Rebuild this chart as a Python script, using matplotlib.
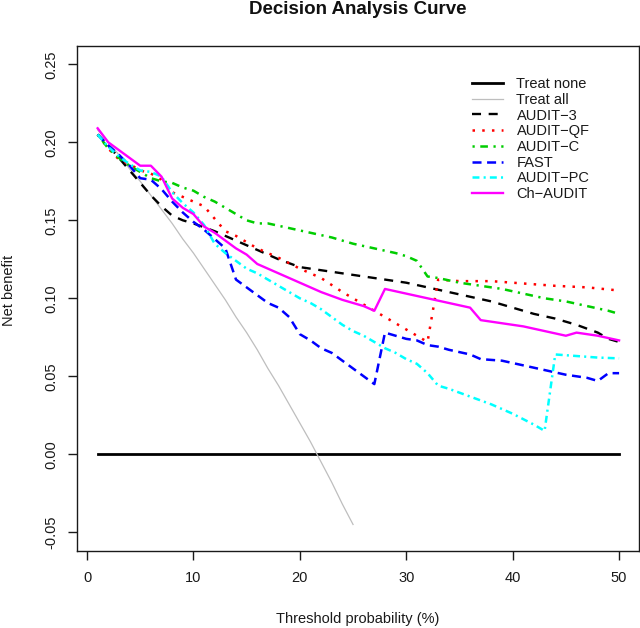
import matplotlib
matplotlib.use("Agg")
import matplotlib.pyplot as plt

plt.rcParams['font.family'] = ['Liberation Sans', 'DejaVu Sans']
plt.rcParams['lines.scale_dashes'] = False

# ---------------- data ----------------
thr_all = [1, 2, 3, 4, 5, 6, 7, 8, 9, 10, 11, 12, 13, 14, 15, 16, 17, 18, 19, 20, 21, 22, 23, 24, 25]
nb_all = [0.208, 0.200, 0.192, 0.183, 0.175, 0.166, 0.157, 0.148, 0.138, 0.129, 0.119, 0.109, 0.099,
          0.088, 0.078, 0.067, 0.055, 0.044, 0.032, 0.020, 0.008, -0.005, -0.018, -0.032, -0.045]

thr_none = [1, 50]
nb_none = [0.0, 0.0]

thr_a3 = [1, 2, 3, 4, 5, 6, 7, 8, 9, 10, 12, 14, 16, 18, 20, 22, 24, 26, 28, 30, 32, 34, 36, 38, 40,
          42, 44, 46, 48, 49, 50]
nb_a3 = [0.205, 0.198, 0.190, 0.182, 0.174, 0.166, 0.159, 0.153, 0.150, 0.148, 0.143, 0.137, 0.131,
         0.125, 0.120, 0.118, 0.116, 0.114, 0.112, 0.110, 0.107, 0.104, 0.101, 0.098, 0.094, 0.090,
         0.087, 0.083, 0.078, 0.074, 0.072]

thr_qf = [1, 2, 3, 4, 5, 6, 7, 8, 9, 10, 11, 12, 13, 14, 15, 16, 18, 20, 22, 24, 26, 28, 30, 31, 32,
          33, 35, 38, 40, 44, 47, 50]
nb_qf = [0.205, 0.196, 0.189, 0.186, 0.182, 0.180, 0.176, 0.168, 0.165, 0.162, 0.159, 0.151, 0.143,
         0.140, 0.136, 0.132, 0.126, 0.119, 0.113, 0.104, 0.096, 0.088, 0.080, 0.076, 0.072, 0.112,
         0.111, 0.111, 0.110, 0.108, 0.107, 0.105]

thr_c = [1, 2, 3, 4, 5, 6, 7, 8, 9, 10, 11, 12, 13, 14, 15, 16, 17, 19, 21, 23, 25, 27, 29, 30, 31,
         32, 33, 35, 37, 39, 41, 43, 45, 47, 49, 50]
nb_c = [0.205, 0.196, 0.190, 0.185, 0.181, 0.177, 0.175, 0.174, 0.171, 0.169, 0.165, 0.162, 0.158,
        0.154, 0.150, 0.148, 0.148, 0.145, 0.142, 0.139, 0.135, 0.132, 0.129, 0.127, 0.124, 0.114,
        0.113, 0.110, 0.108, 0.106, 0.103, 0.100, 0.098, 0.095, 0.092, 0.090]

thr_fast = [1, 2, 3, 4, 5, 6, 7, 8, 9, 10, 11, 12, 13, 14, 15, 16, 17, 18, 19, 20, 21, 22, 23, 24,
            25, 26, 27, 28, 29, 30, 31, 32, 33, 34, 36, 37, 39, 41, 43, 45, 47, 48, 49, 50]
nb_fast = [0.205, 0.198, 0.192, 0.185, 0.177, 0.176, 0.170, 0.162, 0.155, 0.149, 0.144, 0.138, 0.132,
           0.112, 0.107, 0.102, 0.097, 0.094, 0.088, 0.077, 0.073, 0.068, 0.065, 0.060, 0.055, 0.050,
           0.045, 0.078, 0.076, 0.074, 0.073, 0.070, 0.069, 0.067, 0.064, 0.061, 0.060, 0.057, 0.054,
           0.051, 0.049, 0.047, 0.052, 0.052]

thr_pc = [1, 2, 3, 4, 5, 6, 7, 8, 9, 10, 11, 12, 13, 14, 15, 16, 17, 18, 19, 20, 21, 22, 23, 24, 25,
          26, 27, 28, 29, 30, 31, 32, 33, 34, 36, 38, 40, 42, 43, 44, 46, 48, 50]
nb_pc = [0.205, 0.197, 0.191, 0.186, 0.182, 0.181, 0.178, 0.168, 0.161, 0.155, 0.147, 0.135, 0.129,
         0.124, 0.119, 0.116, 0.112, 0.108, 0.104, 0.100, 0.097, 0.093, 0.088, 0.083, 0.079, 0.076,
         0.072, 0.068, 0.065, 0.061, 0.058, 0.052, 0.044, 0.042, 0.037, 0.032, 0.026, 0.019, 0.015,
         0.064, 0.063, 0.062, 0.0615]

thr_ch = [1, 2, 3, 4, 5, 6, 7, 8, 9, 10, 11, 12, 13, 14, 15, 16, 18, 20, 22, 24, 26, 27, 28, 30, 32,
          34, 36, 37, 39, 41, 43, 45, 46, 48, 50]
nb_ch = [0.209, 0.200, 0.195, 0.190, 0.185, 0.185, 0.178, 0.164, 0.158, 0.154, 0.146, 0.142, 0.137,
         0.132, 0.128, 0.122, 0.116, 0.110, 0.104, 0.099, 0.095, 0.092, 0.106, 0.103, 0.100, 0.097,
         0.094, 0.086, 0.084, 0.082, 0.079, 0.076, 0.078, 0.076, 0.073]

x_ticks = [0, 10, 20, 30, 40, 50]
y_ticks = [-0.05, 0.00, 0.05, 0.10, 0.15, 0.20, 0.25]
y_ticklabels = ["-0.05", "0.00", "0.05", "0.10", "0.15", "0.20", "0.25"]

# ---------------- figure ----------------
W, H = 640, 628
fig = plt.figure(figsize=(W / 100, H / 100), dpi=100)
ax = fig.add_axes([76.8 / W, 1 - 551 / H, (639.3 - 76.8) / W, (551 - 45.6) / H])

ax.plot(thr_none, nb_none, color='black', lw=2.0, label='Treat none')
ax.plot(thr_all, nb_all, color='#BEBEBE', lw=0.9, label='Treat all')
ax.plot(thr_a3, nb_a3, color='black', lw=1.7, dashes=(6.5, 5.5), label='AUDIT\u22123')
ax.plot(thr_qf, nb_qf, color='#FF0000', lw=1.8, dashes=(1.8, 5.2), label='AUDIT\u2212QF')
ax.plot(thr_c, nb_c, color='#00CD00', lw=1.8, dashes=(1.6, 4.0, 5.5, 4.0), label='AUDIT\u2212C')
ax.plot(thr_fast, nb_fast, color='#0000FF', lw=1.8, dashes=(6.5, 4.0), label='FAST')
ax.plot(thr_pc, nb_pc, color='#00FFFF', lw=1.8, dashes=(5.0, 3.0, 1.5, 3.0), label='AUDIT\u2212PC')
ax.plot(thr_ch, nb_ch, color='#FF00FF', lw=1.7, label='Ch\u2212AUDIT')

ax.set_xlim(-0.96, 51.9)
ax.set_ylim(-0.062, 0.262)
ax.set_xticks(x_ticks)
ax.set_yticks(y_ticks)
ax.set_yticklabels(y_ticklabels, rotation=90, va='center')
ax.tick_params(axis='both', direction='out', length=6.5, width=1.0, labelsize=10.5, colors='#1a1a1a')
ax.tick_params(axis='x', pad=8)
ax.tick_params(axis='y', pad=7)
for s in ax.spines.values():
    s.set_linewidth(1.0)
    s.set_color('#1a1a1a')

fig.text((76.8 + 639.3) / 2 / W, 1 - 10 / H, 'Decision Analysis Curve', ha='center', va='center',
         fontsize=13.5, fontweight='bold', color='#111111')
fig.text((76.8 + 639.3) / 2 / W, 1 - 619 / H, 'Threshold probability (%)', ha='center', va='center',
         fontsize=10.5, color='#1a1a1a')
fig.text(9 / W, 1 - 290 / H, 'Net benefit', ha='center', va='center', rotation=90,
         fontsize=10.5, color='#1a1a1a')

leg = ax.legend(loc='upper left', bbox_to_anchor=(472 / W, 1 - 77 / H), bbox_transform=fig.transFigure,
                frameon=False, fontsize=10.5, handlelength=2.1, handletextpad=0.95,
                labelspacing=0.12, borderpad=0, borderaxespad=0)
for t in leg.get_texts():
    t.set_color('#1a1a1a')

fig.savefig('out.png', dpi=100)
